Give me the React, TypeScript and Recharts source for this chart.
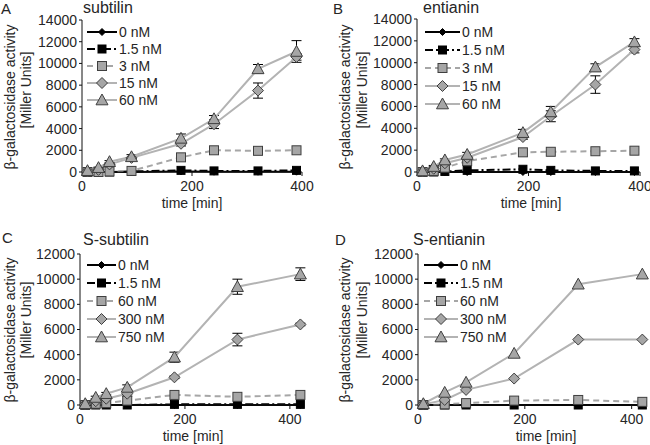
import { LineChart, Line, XAxis, YAxis, ErrorBar, Legend } from 'recharts';

const FONT = '"Liberation Sans", Arial, sans-serif';
const GREY = '#a6a6a6';
const GREY_LINE = '#b3b3b3';
const EDGE = '#3f3f3f';
const TEXT = '#262626';

// A - subtilin
const subtilinTimes = [10, 30, 50, 90, 180, 240, 320, 390];
const subtilinLabels = ['0 nM', '1.5 nM', '3 nM', '15 nM', '60 nM'];
const subtilin0 = [0, 0, 0, 0, 50, 30, 30, 30];
const subtilin1_5 = [0, 0, 0, 50, 150, 100, 100, 150];
const subtilin3 = [0, 0, 50, 100, 1350, 2000, 1950, 2000];
const subtilin15 = [50, 200, 700, 1300, 2600, 4400, 7500, 10600];
const subtilin60 = [120, 400, 950, 1400, 3100, 4900, 9500, 11100];
const subtilin15Err = [0, 0, 0, 0, 200, 400, 700, 300];
const subtilin60Err = [0, 50, 100, 200, 400, 300, 400, 1000];

// B - entianin
const entianinTimes = [10, 30, 50, 90, 190, 240, 320, 390];
const entianinLabels = ['0 nM', '1.5 nM', '3 nM', '15 nM', '60 nM'];
const entianin0 = [0, 0, 0, 0, 0, 0, 0, 0];
const entianin1_5 = [0, 0, 50, 150, 250, 150, 100, 100];
const entianin3 = [0, 100, 400, 1000, 1800, 1850, 1900, 1950];
const entianin15 = [50, 300, 800, 1300, 3200, 5100, 8000, 11200];
const entianin60 = [100, 500, 1100, 1600, 3600, 5500, 9600, 11900];
const entianin15Err = [0, 0, 0, 0, 200, 500, 800, 300];
const entianin60Err = [0, 100, 100, 200, 300, 500, 300, 300];

// C - S-subtilin
const sSubtilinTimes = [10, 30, 50, 90, 180, 300, 420];
const sSubtilinLabels = ['0 nM', '1.5 nM', '60 nM', '300 nM', '750 nM'];
const sSubtilin0 = [0, 0, 0, 0, 0, 0, 0];
const sSubtilin1_5 = [0, 0, 0, 0, 50, 50, 50];
const sSubtilin60 = [0, 100, 150, 350, 800, 650, 800];
const sSubtilin300 = [50, 300, 500, 900, 2200, 5200, 6400];
const sSubtilin750 = [100, 600, 900, 1400, 3800, 9400, 10400];
const sSubtilin300Err = [0, 0, 100, 200, 100, 500, 100];
const sSubtilin750Err = [0, 100, 100, 200, 400, 600, 500];

// D - S-entianin
const sEntianinTimes = [10, 50, 90, 180, 300, 420];
const sEntianinLabels = ['0 nM', '1.5 nM', '60 nM', '300 nM', '750 nM'];
const sEntianin0 = [0, 0, 0, 0, 0, 0];
const sEntianin1_5 = [0, 0, 0, 0, 0, 0];
const sEntianin60 = [0, 50, 150, 350, 400, 250];
const sEntianin300 = [50, 400, 1200, 2100, 5200, 5200];
const sEntianin750 = [100, 1000, 1800, 4100, 9600, 10400];
const sEntianin300Err = [0, 0, 0, 0, 0, 0];
const sEntianin750Err = [0, 0, 0, 0, 0, 0];

const ticks14k = [0, 2000, 4000, 6000, 8000, 10000, 12000, 14000];
const ticks12k = [0, 2000, 4000, 6000, 8000, 10000, 12000];
const timeTicks = [0, 200, 400];

type Shape = 'diamond' | 'square' | 'triangle';
interface SeriesStyle {
  stroke: string
  dash?: string
  shape: Shape
  size: number
  fill: string
  edge: string
}

const styles: SeriesStyle[] = [
  { stroke: '#000', shape: 'diamond', size: 7, fill: '#000', edge: '#000' },
  { stroke: '#000', dash: '8 3 2 3', shape: 'square', size: 8, fill: '#000', edge: '#000' },
  { stroke: GREY, dash: '6 4', shape: 'square', size: 9, fill: GREY, edge: EDGE },
  { stroke: GREY_LINE, shape: 'diamond', size: 11, fill: GREY, edge: EDGE },
  { stroke: GREY_LINE, shape: 'triangle', size: 12, fill: GREY, edge: EDGE },
];

const Mark = ({ cx, cy, s }: { cx: number; cy: number; s: SeriesStyle }) => {
  const h = s.size / 2;
  if (s.shape === 'square')
    return <rect x={cx - h} y={cy - h} width={s.size} height={s.size} fill={s.fill} stroke={s.edge} strokeWidth={1} />;
  if (s.shape === 'diamond')
    return <polygon points={`${cx},${cy - h} ${cx + h},${cy} ${cx},${cy + h} ${cx - h},${cy}`} fill={s.fill} stroke={s.edge} strokeWidth={1} />;
  return <polygon points={`${cx},${cy - h} ${cx + h},${cy + h * 0.8} ${cx - h},${cy + h * 0.8}`} fill={s.fill} stroke={s.edge} strokeWidth={1} />;
};

const buildRows = (times: number[], vals: number[][], e3: number[], e4: number[]) =>
  times.map((t, i) => ({ t, v0: vals[0][i], v1: vals[1][i], v2: vals[2][i], v3: vals[3][i], v4: vals[4][i], e3: e3[i], e4: e4[i] }));

const LegendBox = ({ labels, sample, rowH }: { labels: string[]; sample: number; rowH: number }) => (
  <div style={{ fontFamily: FONT, fontSize: 14, color: TEXT }}>
    {labels.map((l, i) => (
      <div key={l} style={{ display: 'flex', alignItems: 'center', height: rowH, whiteSpace: 'nowrap' }}>
        <svg width={sample} height={14} style={{ marginRight: 2 }}>
          <line x1={0} y1={7} x2={sample} y2={7} stroke={styles[i].stroke} strokeWidth={2} strokeDasharray={styles[i].dash} />
          <Mark cx={sample / 2} cy={7} s={styles[i]} />
        </svg>
        <span>{l}</span>
      </div>
    ))}
  </div>
);

interface PanelProps {
  left: number
  top: number
  width: number
  height: number
  margin: { top: number; right: number; bottom: number; left: number }
  rows: any[]
  xMax: number
  yTicks: number[]
  labels: string[]
  legend: { x: number; y: number; sample: number; rowH: number }
}

const Panel = ({ left, top, width, height, margin, rows, xMax, yTicks, labels, legend }: PanelProps) => (
  <div style={{ position: 'absolute', left, top }}>
    <LineChart width={width} height={height} data={rows} margin={margin} style={{ fontFamily: FONT }}>
      <XAxis dataKey="t" type="number" domain={[0, xMax]} ticks={timeTicks} interval={0} height={30}
        axisLine={{ stroke: '#111' }} tickLine={{ stroke: '#111' }} tickSize={4} tickMargin={5}
        tick={{ fontSize: 14, fill: TEXT }} />
      <YAxis type="number" domain={[0, yTicks[yTicks.length - 1]]} ticks={yTicks} interval={0} width={50}
        axisLine={{ stroke: '#111' }} tickLine={{ stroke: '#111' }} tickSize={3} tickMargin={2}
        tick={{ fontSize: 14, fill: TEXT }} />
      <Legend layout="horizontal" align="center" verticalAlign="middle"
        wrapperStyle={{ left: legend.x, top: legend.y, width: 'auto', height: 'auto' }}
        content={() => <LegendBox labels={labels} sample={legend.sample} rowH={legend.rowH} />} />
      {styles.map((s, i) => (
        <Line key={i} dataKey={`v${i}`} stroke={s.stroke} strokeWidth={2} strokeDasharray={s.dash}
          isAnimationActive={false} legendType="none"
          dot={(p: any) => <Mark key={`m${i}-${p.index}`} cx={p.cx} cy={p.cy} s={s} />} activeDot={false}>
          {i >= 3 && <ErrorBar dataKey={`e${i}`} width={5} stroke="#000" strokeWidth={1} direction="y" />}
        </Line>
      ))}
    </LineChart>
  </div>
);

const Txt = ({ x, y, size, children }: { x: number; y: number; size: number; children: string }) => (
  <div style={{ position: 'absolute', left: x, top: y, fontSize: size, lineHeight: 1, color: TEXT, whiteSpace: 'nowrap' }}>{children}</div>
);

const Centered = ({ x, y, rotate, children }: { x: number; y: number; rotate?: boolean; children: string }) => (
  <div style={{
    position: 'absolute', left: x, top: y, fontSize: 14, lineHeight: 1, color: TEXT, whiteSpace: 'nowrap',
    transform: `translate(-50%, -50%)${rotate ? ' rotate(-90deg)' : ''}`,
  }}>{children}</div>
);

export default function App() {
  const rowsA = buildRows(subtilinTimes, [subtilin0, subtilin1_5, subtilin3, subtilin15, subtilin60], subtilin15Err, subtilin60Err);
  const rowsB = buildRows(entianinTimes, [entianin0, entianin1_5, entianin3, entianin15, entianin60], entianin15Err, entianin60Err);
  const rowsC = buildRows(sSubtilinTimes, [sSubtilin0, sSubtilin1_5, sSubtilin60, sSubtilin300, sSubtilin750], sSubtilin300Err, sSubtilin750Err);
  const rowsD = buildRows(sEntianinTimes, [sEntianin0, sEntianin1_5, sEntianin60, sEntianin300, sEntianin750], sEntianin300Err, sEntianin750Err);

  return (
    <div style={{ position: 'absolute', left: 0, top: 0, width: 650, height: 445, background: '#fff', fontFamily: FONT, overflow: 'hidden' }}>
      <Panel left={0} top={0} width={325} height={222} margin={{ top: 20, right: 23, bottom: 20, left: 32 }}
        rows={rowsA} xMax={400} yTicks={ticks14k} labels={subtilinLabels} legend={{ x: 87, y: 23.5, sample: 30, rowH: 17 }} />
      <Panel left={325} top={0} width={325} height={222} margin={{ top: 19, right: 10, bottom: 20, left: 42 }}
        rows={rowsB} xMax={400} yTicks={ticks14k} labels={entianinLabels} legend={{ x: 100, y: 23, sample: 35, rowH: 18 }} />
      <Panel left={0} top={222} width={325} height={223} margin={{ top: 32, right: 22, bottom: 10, left: 30 }}
        rows={rowsC} xMax={425} yTicks={ticks12k} labels={sSubtilinLabels} legend={{ x: 87, y: 34, sample: 29, rowH: 18 }} />
      <Panel left={325} top={222} width={325} height={223} margin={{ top: 32, right: 5, bottom: 10, left: 43 }}
        rows={rowsD} xMax={425} yTicks={ticks12k} labels={sEntianinLabels} legend={{ x: 99, y: 34, sample: 34, rowH: 18 }} />

      <Txt x={1} y={1} size={15}>A</Txt>
      <Txt x={333} y={1} size={15}>B</Txt>
      <Txt x={2} y={230} size={15}>C</Txt>
      <Txt x={335} y={232} size={15}>D</Txt>

      <Txt x={83} y={0} size={16}>subtilin</Txt>
      <Txt x={423} y={0} size={16}>entianin</Txt>
      <Txt x={83} y={232} size={16}>S-subtilin</Txt>
      <Txt x={413} y={232} size={16}>S-entianin</Txt>

      <Centered x={10} y={97} rotate>β-galactosidase activity</Centered>
      <Centered x={26} y={90} rotate>[Miller Units]</Centered>
      <Centered x={345} y={97} rotate>β-galactosidase activity</Centered>
      <Centered x={362} y={90} rotate>[Miller Units]</Centered>
      <Centered x={10} y={330} rotate>β-galactosidase activity</Centered>
      <Centered x={26} y={320} rotate>[Miller Units]</Centered>
      <Centered x={345} y={330} rotate>β-galactosidase activity</Centered>
      <Centered x={362} y={320} rotate>[Miller Units]</Centered>

      <Centered x={192} y={203}>time [min]</Centered>
      <Centered x={531} y={203}>time [min]</Centered>
      <Centered x={193} y={436}>time [min]</Centered>
      <Centered x={546} y={436}>time [min]</Centered>
    </div>
  );
}
